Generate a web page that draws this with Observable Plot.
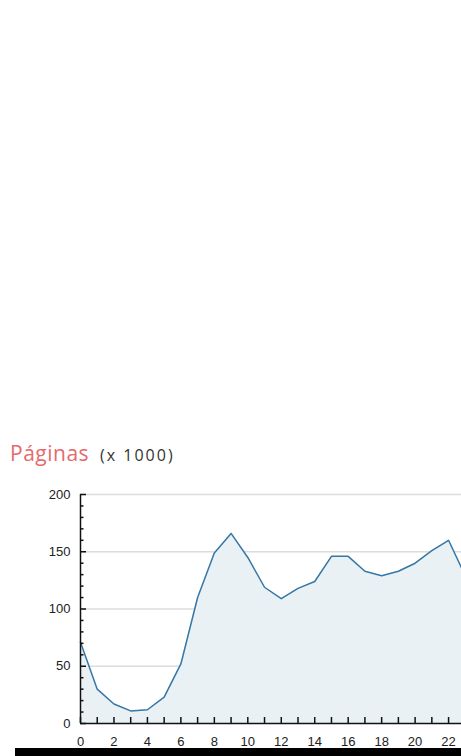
<!DOCTYPE html>
<html>
<head>
<meta charset="utf-8">
<script src="https://cdn.jsdelivr.net/npm/d3@7"></script>
<script src="https://cdn.jsdelivr.net/npm/@observablehq/plot@0.6"></script>
<style>
  html, body { margin: 0; padding: 0; background: #fff; overflow: hidden; width: 461px; height: 756px; }
  #title { position: absolute; left: 10px; top: 438px; font-family: "Open Sans", sans-serif; white-space: nowrap; line-height: 30px; }
  #title .main { color: #e56a6c; font-size: 21px; letter-spacing: 0.5px; }
  #title .unit { color: #333; font-size: 16px; letter-spacing: 2px; margin-left: 11px; }
  #chart { position: absolute; left: 0; top: 480px; }
  #bar { position: absolute; left: 15px; top: 748px; width: 446px; height: 8px; background: #000; }
</style>
</head>
<body>
<div id="title"><span class="main">Páginas</span><span class="unit">(x 1000)</span></div>
<div id="chart"></div>
<div id="bar"></div>
<script>
const hours = [0,1,2,3,4,5,6,7,8,9,10,11,12,13,14,15,16,17,18,19,20,21,22,23];
const pages = [71,30,17,11,12,23,52,110,149,166,145,119,109,118,124,146,146,133,129,133,140,151,160,129];
const yMajor = [0,50,100,150,200];
const yMinor = [10,20,30,40,60,70,80,90,110,120,130,140,160,170,180,190];
const xLabels = [0,2,4,6,8,10,12,14,16,18,20,22];

const data = hours.map((h, i) => ({hour: h, value: pages[i]}));

const plot = Plot.plot({
  width: 461,
  height: 268,
  marginLeft: 80,
  marginRight: 0,
  marginTop: 14,
  marginBottom: 25,
  style: {fontFamily: "'Liberation Sans', Arial, sans-serif", fontSize: "13px", color: "#222", background: "transparent"},
  x: {domain: [0, 23], range: [80, 464.8]},
  y: {domain: [0, 200]},
  marks: [
    Plot.gridY([50, 100, 150, 200], {stroke: "#dcdcdc", strokeOpacity: 1, strokeWidth: 1.5}),
    Plot.areaY(data, {x: "hour", y: "value", fill: "#e9f1f5"}),
    Plot.lineY(data, {x: "hour", y: "value", stroke: "#3577a6", strokeWidth: 1.5}),
    Plot.ruleX([0], {stroke: "#111", strokeWidth: 1.5}),
    Plot.ruleY([0], {stroke: "#111", strokeWidth: 1.5}),
    Plot.axisY({ticks: yMajor, tickSize: -6, tickFormat: () => "", stroke: "#111", strokeWidth: 1.5, label: null}),
    Plot.axisY({ticks: yMinor, tickSize: -3.5, tickFormat: () => "", stroke: "#111", strokeWidth: 1.5, label: null}),
    Plot.axisY({ticks: yMajor, tickSize: 0, tickPadding: 10, label: null, fill: "#222"}),
    Plot.axisX({ticks: hours, tickSize: -6, tickFormat: () => "", stroke: "#111", strokeWidth: 1.5, label: null}),
    Plot.axisX({ticks: xLabels, tickSize: 0, tickPadding: 13, label: null, fill: "#222"})
  ]
});
document.getElementById("chart").appendChild(plot);
</script>
</body>
</html>
